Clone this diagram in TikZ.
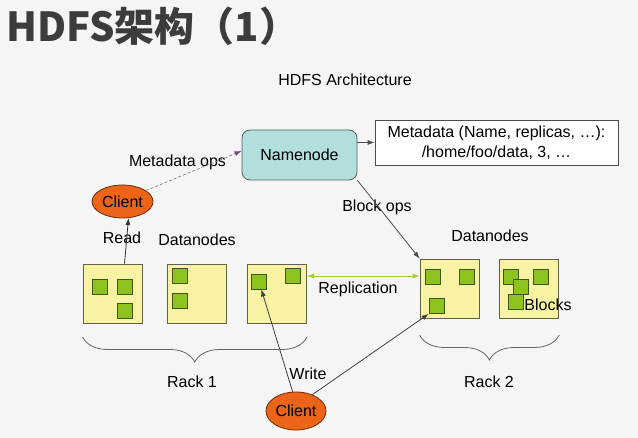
\documentclass[tikz,border=0pt]{standalone}
\usepackage{fontspec}
\setmainfont{Liberation Sans}
\newfontfamily\cjk{Noto Sans CJK SC}
\usetikzlibrary{positioning,shapes.geometric,arrows.meta,decorations.pathreplacing}
\definecolor{bgcol}{HTML}{F5F5F5}
\definecolor{nncol}{HTML}{B2DEDC}
\definecolor{dncol}{HTML}{F7F3A3}
\definecolor{blkcol}{HTML}{8DC21F}
\definecolor{clientcol}{HTML}{EB6417}
\definecolor{replcol}{HTML}{A0CC3C}
\definecolor{titlecol}{HTML}{3C3C3C}
\definecolor{opscol}{HTML}{7A3C96}
\tikzset{
	namenode/.style={draw=nncol!45!black, fill=nncol, rounded corners=8pt, minimum width=115pt, minimum height=50pt},
	metabox/.style={draw=black!70, fill=white, minimum width=243pt, minimum height=45pt, align=center, inner sep=2pt},
	datanode/.style={draw=dncol!40!black, fill=dncol, minimum size=59pt, inner sep=0pt},
	blk/.style={draw=blkcol!45!black, fill=blkcol, minimum size=15pt, inner sep=0pt},
	client/.style={ellipse, draw=clientcol!45!black, fill=clientcol, inner sep=0pt},
	rack/.style={decorate, decoration={brace, mirror, amplitude=25pt}, draw=black!60},
}

\begin{document}
\begin{tikzpicture}[x=1pt, y=-1pt, font=\fontsize{16}{20}\selectfont, line width=0.8pt, >={Latex[length=7pt,width=5pt]}]
	\useasboundingbox[fill=bgcol] (0,0) rectangle (638,438);
	
	\node[anchor=base west, text=titlecol, font=\cjk\bfseries\fontsize{40}{44}\selectfont, inner sep=0pt] (title) at (6,42) {HDFS架构（1）};
	\node (arch) at (345,80) {HDFS Architecture};
	
	\node[namenode] (nn) at (299.5,155) {Namenode};
	\node[metabox] (meta) at (496.5,142.5) {Metadata (Name, replicas, …):\\/home/foo/data, 3, …};
	\node[client, minimum width=61pt, minimum height=33pt] (c1) at (122.5,201.5) {Client};
	\node[client, minimum width=60pt, minimum height=38pt] (c2) at (296,411) {Client};
	
	\node[datanode] (d1) at (112.5,293.5) {};
	\node[datanode, right=25pt of d1] (d2) {};
	\node[datanode, right=20pt of d2] (d3) {};
	\node[datanode] (d4) at (449.5,288.5) {};
	\node[datanode, right=20pt of d4] (d5) {};
	
	\node[blk] (b11) at (100,286.5) {};
	\node[blk] (b12) at (124.5,286.5) {};
	\node[blk] (b13) at (124.5,311) {};
	\node[blk] (b21) at (179.5,276) {};
	\node[blk] (b22) at (179.5,301) {};
	\node[blk] (b31) at (258.5,281.5) {};
	\node[blk] (b32) at (292.5,276) {};
	\node[blk] (b41) at (432.5,276.5) {};
	\node[blk] (b42) at (466.5,276.5) {};
	\node[blk] (b43) at (436.5,306) {};
	\node[blk] (b51) at (510.5,276.5) {};
	\node[blk] (b52) at (520.5,286.5) {};
	\node[blk] (b53) at (540.5,276.5) {};
	\node[blk] (b54) at (515.5,301.5) {};
	
	\node (mops) at (177.5,162) {Metadata ops};
	\node (read) at (122,238) {Read};
	\node (dnl) at (197,240) {Datanodes};
	\node (bops) at (377,207) {Block ops};
	\node (dnr) at (490,236) {Datanodes};
	\node (repl) at (358,289) {Replication};
	\node (blabel) at (548,305) {Blocks};
	\node (write) at (308,374) {Write};
	\node (r1) at (192,382) {Rack 1};
	\node (r2) at (489,382) {Rack 2};
	
	\draw[->, draw=black!70] (nn.east |- meta.west) -- (meta.west);
	\draw[-{Latex[length=7pt,width=5pt,color=opscol]}, draw=black!45, dash pattern=on 3pt off 2pt] (c1.25) -- (nn.176);
	\draw[->, draw=black!70] (nn.south east) -- (d4.north west);
	\draw[->, draw=black!80] (d1.north -| b12) -- (c1.-70);
	\draw[<->, draw=replcol] (d3.east |- b32) -- (d4.west |- b32);
	\draw[->, draw=black!75] (c2.100) -- (b31.-70);
	\draw[->, draw=black!75] (c2.45) -- (b43.south west);
	
	\draw[rack] (d1.west |- 0,337) -- (d3.east |- 0,337);
	\draw[rack] (d4.west |- 0,335) -- (d5.east |- 0,335);
\end{tikzpicture}
\end{document}
